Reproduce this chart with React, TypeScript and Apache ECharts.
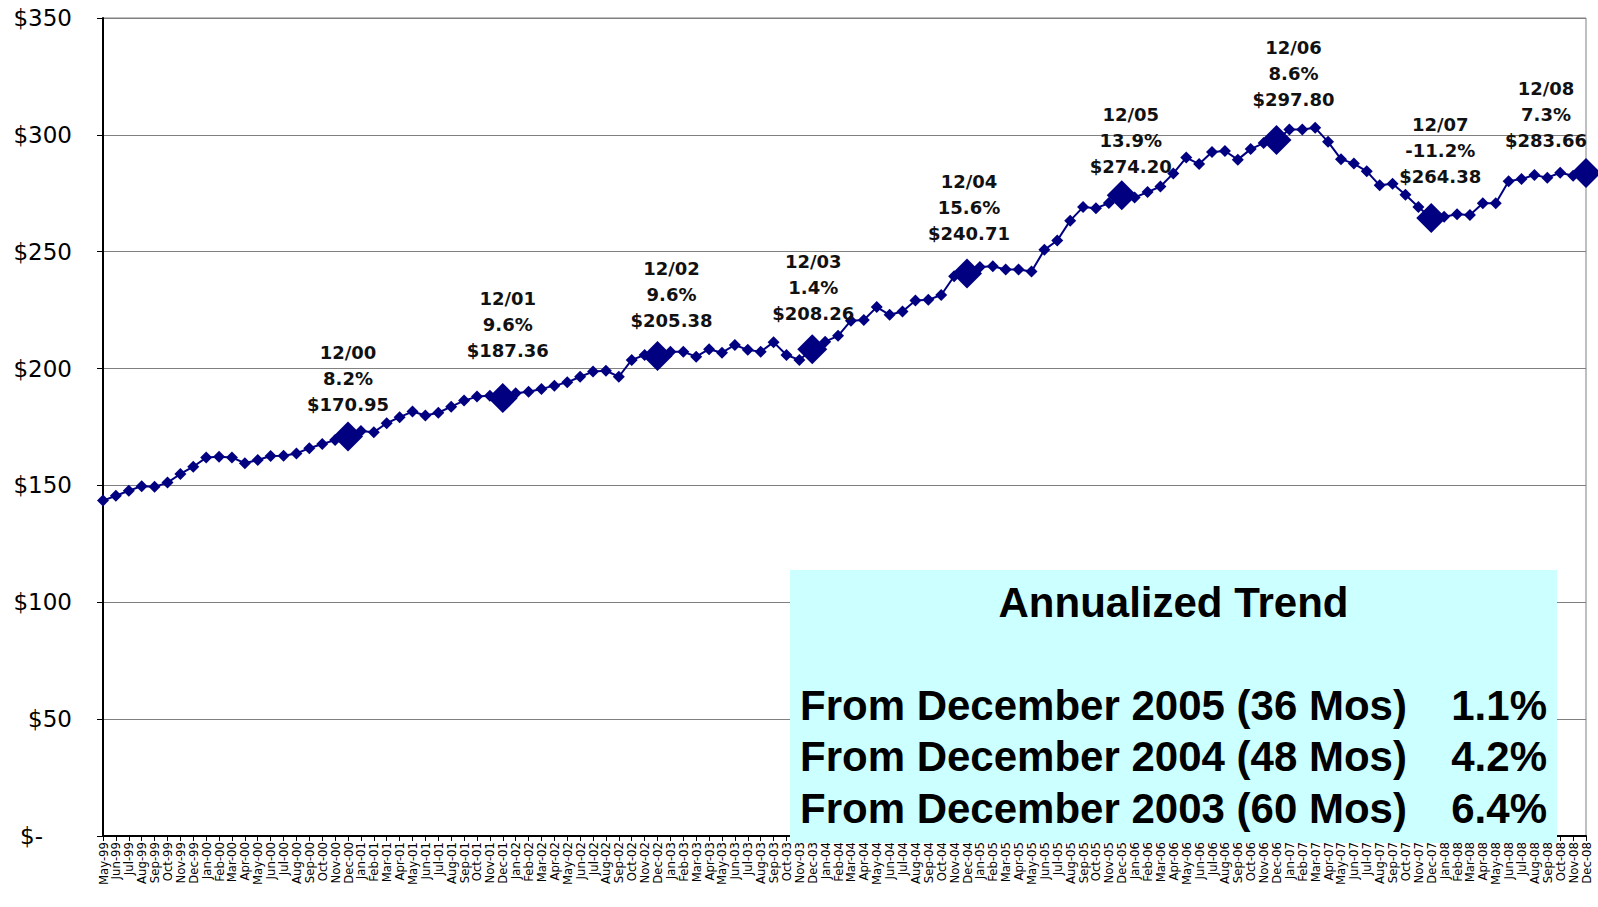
import React, { useEffect, useRef } from "react";
import * as echarts from "echarts";

// ---- Data ----
const MONTH_NAMES = ["Jan", "Feb", "Mar", "Apr", "May", "Jun", "Jul", "Aug", "Sep", "Oct", "Nov", "Dec"];
const YEARS = ["99", "00", "01", "02", "03", "04", "05", "06", "07", "08"];

const values1999 = [143.5, 145.6, 147.7, 149.7, 149.4, 151.2, 154.9, 158.0]; // May..Dec
const values2000 = [161.9, 162.3, 162.0, 159.5, 160.9, 162.6, 162.7, 163.7, 165.9, 167.7, 169.4, 170.95];
const values2001 = [173.3, 172.8, 176.6, 179.2, 181.6, 179.9, 181.1, 183.7, 186.3, 188.0, 188.4, 187.36];
const values2002 = [189.4, 190.1, 191.3, 192.7, 194.1, 196.5, 198.7, 199.1, 196.5, 203.7, 205.8, 205.38];
const values2003 = [207.2, 207.2, 205.1, 208.3, 206.8, 210.1, 208.0, 207.2, 211.3, 205.8, 203.7, 208.26];
const values2004 = [211.5, 214.0, 220.5, 220.8, 226.3, 223.0, 224.4, 229.1, 229.4, 231.5, 239.5, 240.71];
const values2005 = [243.5, 243.8, 242.4, 242.4, 241.5, 250.8, 254.8, 263.3, 269.1, 268.6, 270.8, 274.2];
const values2006 = [273.2, 275.5, 277.9, 283.5, 290.3, 287.5, 292.7, 293.1, 289.4, 293.9, 296.5, 297.8];
const values2007 = [302.3, 302.3, 303.0, 297.0, 289.6, 287.7, 284.4, 278.4, 279.1, 274.4, 269.1, 264.38];
const values2008 = [265.0, 266.0, 265.7, 270.7, 270.7, 280.2, 281.1, 282.8, 281.7, 283.8, 282.5, 283.66];

const highlightCategories = ["Dec-00", "Dec-01", "Dec-02", "Dec-03", "Dec-04", "Dec-05", "Dec-06", "Dec-07", "Dec-08"];
const periodLabels = ["12/00", "12/01", "12/02", "12/03", "12/04", "12/05", "12/06", "12/07", "12/08"];
const yearChanges = ["8.2%", "9.6%", "9.6%", "1.4%", "15.6%", "13.9%", "8.6%", "-11.2%", "7.3%"];

const trendTitle = "Annualized Trend";
const trendRows = [
  "From December 2005 (36 Mos)",
  "From December 2004 (48 Mos)",
  "From December 2003 (60 Mos)",
];
const trendValues = ["1.1%", "4.2%", "6.4%"];

// ---- Layout / style (kept apart from data) ----
const labelOffsets: [number, number][] = [
  [0, -4], [5, -20], [14, -7], [1, -8], [2, -12], [9, -1], [17, -12], [9, -14], [-40, -5],
];
const NAVY = "#000080";

export default function App() {
  const ref = useRef<HTMLDivElement>(null);

  useEffect(() => {
    if (!ref.current) return;
    const chart = echarts.init(ref.current, null, { renderer: "svg" });

    const categories: string[] = [];
    YEARS.forEach((yy, yi) => {
      MONTH_NAMES.forEach((m, mi) => {
        if (yi === 0 && mi < 4) return;
        categories.push(`${m}-${yy}`);
      });
    });
    const values = [
      ...values1999, ...values2000, ...values2001, ...values2002, ...values2003,
      ...values2004, ...values2005, ...values2006, ...values2007, ...values2008,
    ];

    const seriesData = values.map((v, i) => {
      const h = highlightCategories.indexOf(categories[i]);
      if (h < 0) return { value: v };
      return {
        value: v,
        symbolSize: 30,
        label: {
          show: true,
          position: "top",
          distance: 0,
          offset: labelOffsets[h],
          formatter: `${periodLabels[h]}\n${yearChanges[h]}\n$${v.toFixed(2)}`,
          fontFamily: "DejaVu Sans",
          fontWeight: "bold",
          fontSize: 18,
          lineHeight: 26,
          color: "#111",
          align: "center",
        },
      };
    });

    const boxX = 790, boxY = 570, boxW = 767, boxH = 273;
    const font = "bold 42px 'Liberation Sans', Arial, sans-serif";

    chart.setOption({
      animation: false,
      backgroundColor: "#ffffff",
      grid: {
        left: 103,
        right: 12,
        top: 18,
        bottom: 71,
        containLabel: false,
        outerBoundsMode: "none",
        show: true,
        borderColor: "#808080",
        borderWidth: 1,
      },
      xAxis: {
        type: "category",
        data: categories,
        boundaryGap: false,
        axisLine: { show: true, lineStyle: { color: "#000", width: 2 } },
        axisTick: { show: true, interval: 0, length: 5, lineStyle: { color: "#000" } },
        axisLabel: {
          interval: 0,
          rotate: 90,
          margin: 6,
          fontFamily: "'Liberation Sans Narrow', 'DejaVu Sans Condensed', 'Liberation Sans', sans-serif",
          fontSize: 13,
          color: "#000",
        },
        splitLine: { show: false },
      },
      yAxis: {
        type: "value",
        min: 0,
        max: 350,
        interval: 50,
        axisLine: { show: true, lineStyle: { color: "#000", width: 2 } },
        axisTick: { show: true, length: 6, lineStyle: { color: "#000" } },
        axisLabel: {
          margin: 31,
          fontFamily: "'DejaVu Sans', Verdana, sans-serif",
          fontSize: 23,
          color: "#000",
          formatter: (v: number) => (v === 0 ? "{z|$-}" : `$${v}`),
          rich: { z: { fontFamily: "'DejaVu Sans', Verdana, sans-serif", fontSize: 23, color: "#000", padding: [0, 29, 0, 0] } },
        },
        splitLine: { show: true, lineStyle: { color: "#808080", width: 1 } },
      },
      series: [
        {
          type: "line",
          data: seriesData,
          symbol: "diamond",
          symbolSize: 12,
          itemStyle: { color: NAVY },
          lineStyle: { color: NAVY, width: 2 },
          label: { show: false },
          z: 3,
        },
      ],
      graphic: [
        {
          type: "rect",
          z: 100,
          shape: { x: boxX, y: boxY, width: boxW, height: boxH },
          style: { fill: "#CCFFFF" },
        },
        {
          type: "text",
          z: 101,
          style: { text: trendTitle, x: boxX + boxW / 2, y: 602, font, fill: "#000", align: "center", verticalAlign: "middle" },
        },
        ...trendRows.map((t, i) => ({
          type: "text",
          z: 101,
          style: { text: t, x: 800, y: 705 + i * 51.5, font, fill: "#000", align: "left", verticalAlign: "middle" },
        })),
        ...trendValues.map((t, i) => ({
          type: "text",
          z: 101,
          style: { text: t, x: 1547, y: 705 + i * 51.5, font, fill: "#000", align: "right", verticalAlign: "middle" },
        })),
      ],
    });

    return () => chart.dispose();
  }, []);

  return (
    <div
      ref={ref}
      style={{ position: "absolute", left: 0, top: 0, width: 1598, height: 907 }}
    />
  );
}
